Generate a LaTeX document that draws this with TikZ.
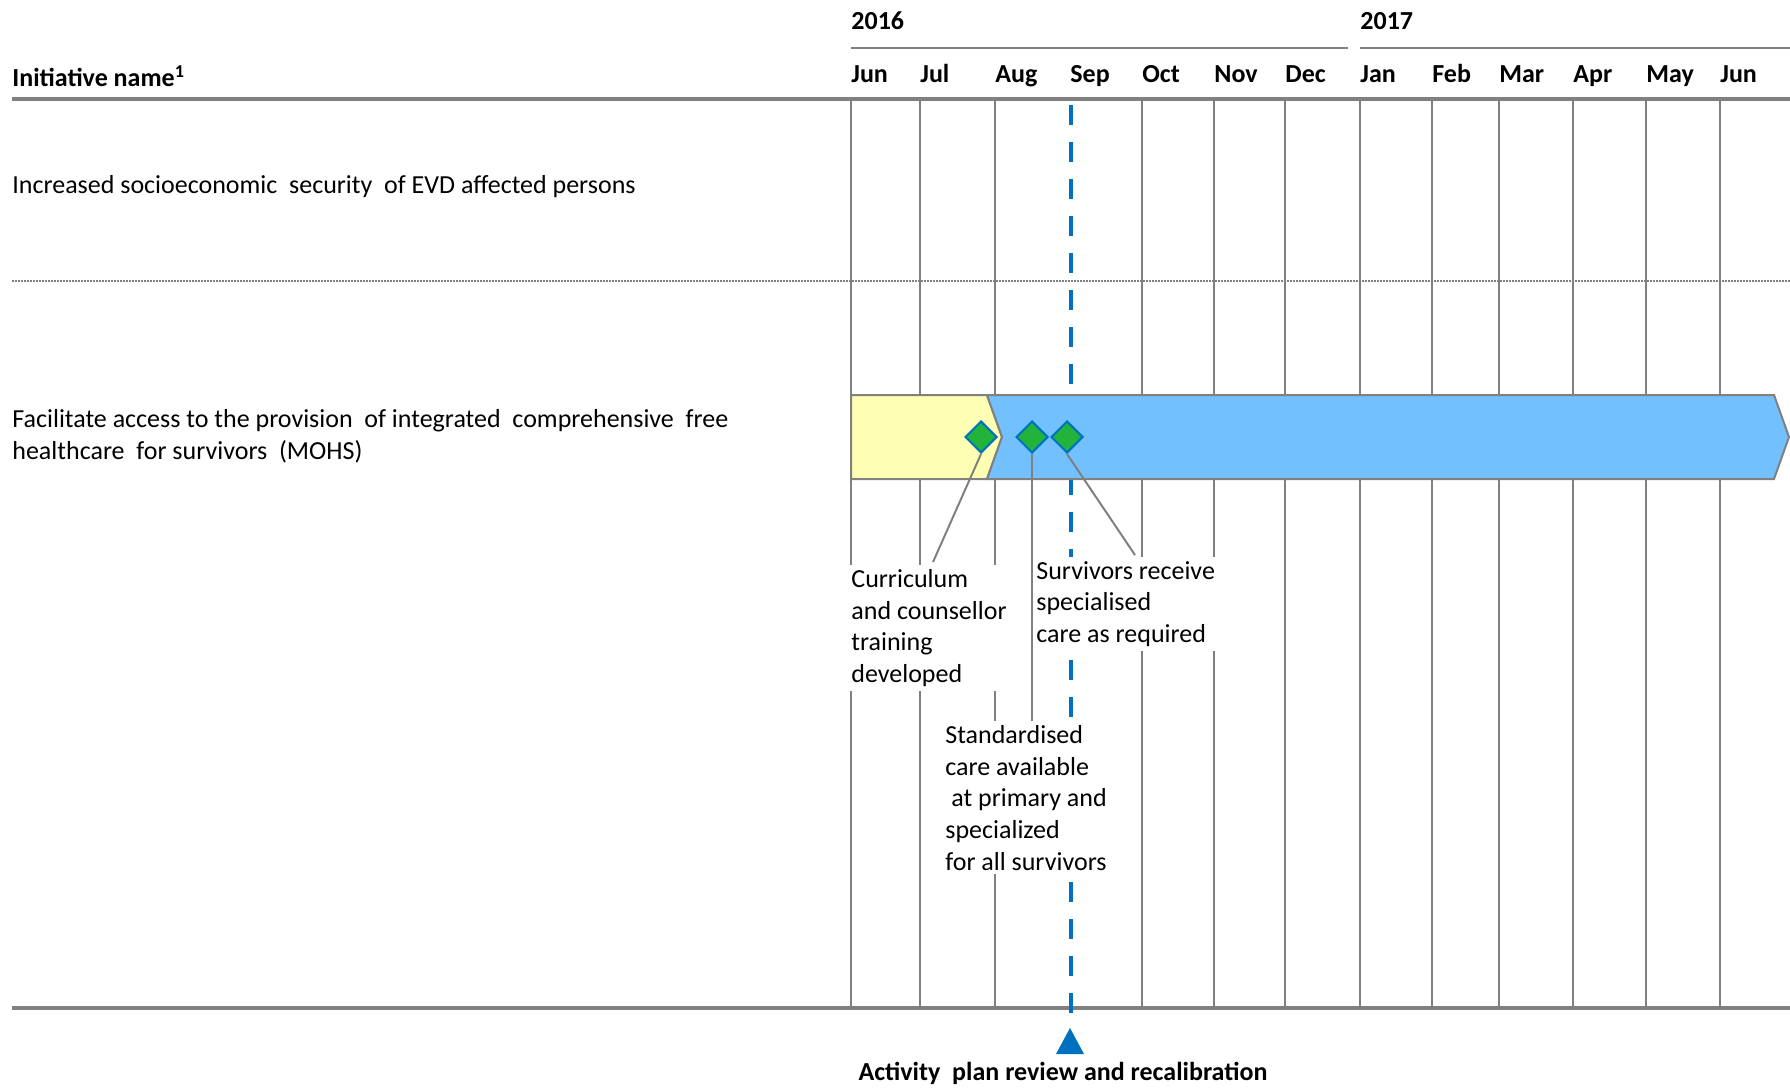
\documentclass[tikz,border=0pt]{standalone}
\usepackage{fontspec}
\setmainfont{Carlito}
\usetikzlibrary{shapes.geometric}
\definecolor{gridgray}{RGB}{128,128,128}
\definecolor{barblue}{RGB}{115,192,255}
\definecolor{baryellow}{RGB}{255,255,180}
\definecolor{msgreen}{RGB}{34,180,58}
\definecolor{msblue}{RGB}{0,112,192}
\tikzset{
  grid line/.style={draw=gridgray, line width=1pt},
  rule line/.style={draw=gridgray, line width=2.3pt},
  month/.style={anchor=base west, inner sep=0pt, font=\fontsize{13}{15.85}\selectfont\bfseries},
  note/.style={anchor=north west, fill=white, align=left, inner sep=2pt},
  milestone/.style={diamond, draw=msblue, fill=msgreen, line width=1pt, minimum size=16pt, inner sep=0pt},
  bar/.style={draw=gridgray, line width=1pt},
}
\begin{document}
\begin{tikzpicture}[x=0.5pt,y=-0.5pt,every node/.style={font=\fontsize{13}{15.85}\selectfont}]
\useasboundingbox (0,0) rectangle (1790,1088);
% years and months
\node[month] (y16) at (851,29) {2016};
\node[month] (y17) at (1360,29) {2017};
\draw[gridgray, line width=1.4pt] (851,48) -- (1348,48);
\draw[gridgray, line width=1.4pt] (1360,48) -- (1790,48);
\foreach \x/\m [count=\i] in {851/Jun,920/Jul,995/Aug,1070/Sep,1142/Oct,1214/Nov,1285/Dec,1360/Jan,1432/Feb,1499/Mar,1573/Apr,1646/May,1720/Jun}
  \node[month] (m\i) at (\x,82) {\m};
\node[month] (head) at (12,86) {Initiative name\textsuperscript{1}};
% vertical lines, no gray one at Sep
\foreach \x in {851,920,995,1142,1214,1285,1360,1432,1499,1573,1646,1720}
  \draw[grid line] (\x,99) -- (\x,1008);
\draw[rule line] (12,99) -- (1790,99);
\draw[rule line] (12,1008) -- (1790,1008);
\draw[gridgray, line width=0.75pt, dash pattern=on 0.75pt off 0.75pt] (12,281) -- (1790,281);
\draw[msblue, line width=2.4pt, dash pattern=on 10pt off 8.5pt] (1071,105) -- (1071,1018);
% bars
\filldraw[bar, fill=baryellow] (851,395) -- (987,395) -- (1002,437) -- (987,479) -- (851,479) -- cycle;
\filldraw[bar, fill=barblue] (987,395) -- (1774,395) -- (1789,437) -- (1774,479) -- (987,479) -- (1002,437) -- cycle;
% initiatives
\node[anchor=west, inner sep=0pt] (i1) at (12,187) {Increased socioeconomic\ \ security\ \ of EVD affected persons};
\node[anchor=west, inner sep=0pt, align=left] (i2) at (12,436) {Facilitate access to the provision\ \ of integrated\ \ comprehensive\ \ free\\healthcare\ \ for survivors\ \ (MOHS)};
% milestone texts
\node[note] (l1) at (847,565) {Curriculum\\and counsellor\\training\\developed};
\node[note] (l2) at (941,721) {Standardised\\care available\\\hspace*{3pt}at primary and\\specialized\\for all survivors};
\node[note] (l3) at (1032,557) {Survivors receive\\specialised\\care as required};
% milestones
\node[milestone] (d1) at (981,437) {};
\node[milestone] (d2) at (1032,437) {};
\node[milestone] (d3) at (1067,437) {};
\coordinate (c1) at (933,562);
\coordinate (c3) at (1135,555);
\draw[grid line] (d1.south) -- (c1);
\draw[grid line] (d2.south) -- (d2.south |- l2.north);
\draw[grid line] (d3.south) -- (c3);
% review
\coordinate (rev) at (1070,1054);
\fill[msblue] (rev) ++(-14,0) -- ++(28,0) -- ++(-14,-26) -- cycle;
\node[font=\fontsize{13}{15.85}\selectfont\bfseries] (review) at (1063,1073) {Activity\ \ plan review and recalibration};
\end{tikzpicture}
\end{document}
